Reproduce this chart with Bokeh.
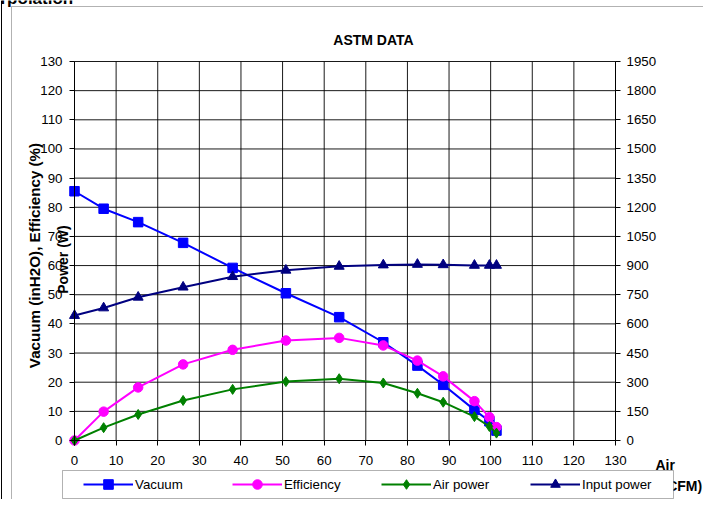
from math import pi
from bokeh.plotting import figure
from bokeh.models import (Range1d, LinearAxis, FixedTicker, Label, Legend,
                          LegendItem, BoxAnnotation, Span)
from bokeh.embed import file_html
from bokeh.resources import INLINE

# ---------------- data ----------------
airflow = [0, 7.0, 15.3, 26.1, 38.0, 50.8, 63.6, 74.2, 82.4, 88.6, 96.1, 99.7, 101.4]   # CFM
vacuum = [85.5, 79.5, 74.9, 67.8, 59.2, 50.5, 42.3, 33.7, 25.7, 19.1, 10.5, 6.6, 3.4]    # inH2O
efficiency = [0, 9.9, 18.2, 26.1, 31.1, 34.3, 35.2, 32.6, 27.4, 22.0, 13.5, 8.0, 4.6]    # %
air_power = [0, 66, 134, 206, 263, 303, 318, 296, 243, 197, 123, 72, 38]                 # W
input_power = [643, 682, 737, 789, 843, 876, 896, 903, 906, 904, 901, 901, 901]          # W

x_ticks = list(range(0, 131, 10))
left_ticks = list(range(0, 131, 10))
right_ticks = list(range(0, 1951, 150))

title_text = "ASTM DATA"
left_label = "Vacuum (inH2O), Efficiency (%)"
right_label = "Power (W)"
x_label_1 = "Air"
x_label_2 = "(CFM)"
caption_text = "rpolation"

# ---------------- layout (pixels of the canvas) ----------------
W, H = 703, 499
PX_L, PX_R, PX_T, PX_B = 74, 615, 61, 440
X0, X1 = x_ticks[0], x_ticks[-1]
Y0, Y1 = left_ticks[0], left_ticks[-1]
P0, P1 = right_ticks[0], right_ticks[-1]
kx = (PX_R - PX_L) / (X1 - X0)
ky = (PX_B - PX_T) / (Y1 - Y0)
kp = (P1 - P0) / (Y1 - Y0)


def fx(px):
    return X0 + (px - PX_L) / kx


def fy(py):
    return Y0 + (PX_B - py) / ky


FONT = "Liberation Sans"
TICK_FS = "13.3px"

p = figure(width=W, height=H, x_range=Range1d(fx(0), fx(W)), y_range=Range1d(fy(H), fy(0)),
           output_backend="svg", toolbar_location=None,
           min_border_left=0, min_border_right=0, min_border_top=0, min_border_bottom=0)
p.title.visible = False
p.extra_y_ranges = {"power": Range1d(P0 + (fy(H) - Y0) * kp, P0 + (fy(0) - Y0) * kp)}
p.background_fill_color = "white"
p.border_fill_color = "white"
p.outline_line_color = None
p.xgrid.visible = False
p.ygrid.visible = False

right_axis = LinearAxis(y_range_name="power")
p.add_layout(right_axis, "right")

p.xaxis.ticker = FixedTicker(ticks=x_ticks)
p.yaxis[0].ticker = FixedTicker(ticks=left_ticks)
right_axis.ticker = FixedTicker(ticks=right_ticks)
p.xaxis[0].fixed_location = Y0
p.yaxis[0].fixed_location = X0
right_axis.fixed_location = X1
p.xaxis[0].bounds = (X0, X1)
p.yaxis[0].bounds = (Y0, Y1)
right_axis.bounds = (P0, P1)

for ax in [p.xaxis[0], p.yaxis[0], right_axis]:
    ax.axis_line_color = "black"
    ax.axis_line_width = 1
    ax.major_tick_line_color = "black"
    ax.major_tick_out = 5
    ax.major_tick_in = 0
    ax.minor_tick_line_color = None
    ax.major_label_text_font = FONT
    ax.major_label_text_font_size = TICK_FS
    ax.major_label_text_color = "black"
p.xaxis[0].major_label_standoff = 10
p.yaxis[0].major_label_standoff = 7
right_axis.major_label_standoff = 6

# grid lines (one per tick, across the plot area)
p.segment(x0=x_ticks, y0=[Y0] * len(x_ticks), x1=x_ticks, y1=[Y1] * len(x_ticks),
          line_color="black", line_width=1, line_alpha=0.9)
p.segment(x0=[X0] * len(left_ticks), y0=left_ticks, x1=[X1] * len(left_ticks), y1=left_ticks,
          line_color="black", line_width=1, line_alpha=0.9)

# ---------------- series ----------------
l1 = p.line(airflow, vacuum, line_color="#0000FF", line_width=2)
s1 = p.scatter(airflow, vacuum, marker="square", size=9.5, fill_color="#0000FF", line_color="#0000FF")
l2 = p.line(airflow, efficiency, line_color="#FF00FF", line_width=2)
s2 = p.scatter(airflow, efficiency, marker="circle", size=9.5, fill_color="#FF00FF", line_color="#FF00FF")
l3 = p.line(airflow, air_power, line_color="#008000", line_width=2, y_range_name="power")
s3 = p.scatter(airflow, air_power, marker="diamond", size=10, fill_color="#008000", line_color="#008000",
               y_range_name="power")
l4 = p.line(airflow, input_power, line_color="#000080", line_width=2, y_range_name="power")
s4 = p.scatter(airflow, input_power, marker="triangle", size=10, fill_color="#000080", line_color="#000080",
               y_range_name="power")

# ---------------- decorations ----------------
p.add_layout(BoxAnnotation(left=fx(11), right=fx(713), top=fy(6), bottom=fy(520),
                           fill_alpha=0, line_color="black", line_width=1))
p.add_layout(Span(location=fx(1), dimension="height", line_color="black", line_width=1))
p.add_layout(Label(x=fx(0), y=fy(-2), text=caption_text, text_align="left", text_baseline="alphabetic",
                   text_font=FONT, text_font_size="17px", text_font_style="bold", text_color="black"))

p.add_layout(Label(x=fx(373), y=fy(39), text=title_text, text_align="center", text_baseline="middle",
                   text_font=FONT, text_font_size="14px", text_font_style="bold", text_color="black"))
p.add_layout(Label(x=fx(34), y=fy(255), text=left_label, angle=pi / 2, text_align="center",
                   text_baseline="middle", text_font=FONT, text_font_size="15.2px",
                   text_font_style="bold", text_color="black"))
p.add_layout(Label(x=fx(62), y=fy(259), text=right_label, angle=pi / 2, text_align="center",
                   text_baseline="middle", text_font=FONT, text_font_size="14px",
                   text_font_style="bold", text_color="black"))
p.add_layout(Label(x=fx(655), y=fy(464), text=x_label_1, text_align="left", text_baseline="middle",
                   text_font=FONT, text_font_size="14px", text_font_style="bold", text_color="black"))
p.add_layout(Label(x=fx(662), y=fy(485), text=x_label_2, text_align="left", text_baseline="middle",
                   text_font=FONT, text_font_size="14px", text_font_style="bold", text_color="black"))

# legend box
p.add_layout(BoxAnnotation(left=fx(62), right=fx(673), top=fy(470), bottom=fy(498),
                           fill_color="white", fill_alpha=1, line_color="black", line_width=1))

legend = Legend(items=[LegendItem(label="Vacuum", renderers=[l1, s1]),
                       LegendItem(label="Efficiency", renderers=[l2, s2]),
                       LegendItem(label="Air power", renderers=[l3, s3]),
                       LegendItem(label="Input power", renderers=[l4, s4])],
                orientation="horizontal", location=(81, 1), margin=0, padding=2,
                glyph_width=50, glyph_height=24, label_height=24, label_width=92,
                label_standoff=2, spacing=5,
                border_line_alpha=0, background_fill_alpha=0,
                label_text_font=FONT, label_text_font_size="13.3px", label_text_color="black")
p.add_layout(legend)

open("out.html", "w").write(file_html(p, INLINE))
